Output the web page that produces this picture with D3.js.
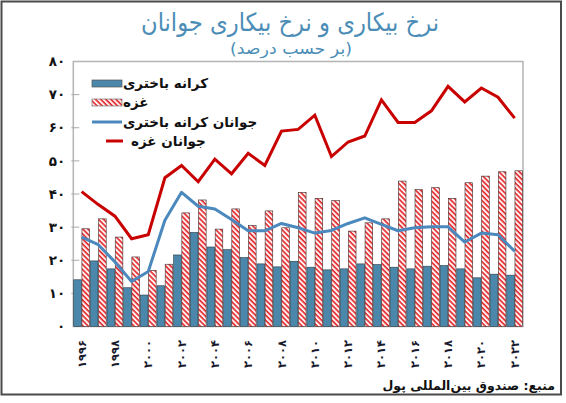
<!DOCTYPE html>
<html><head><meta charset="utf-8">
<script src="https://cdn.jsdelivr.net/npm/d3@7"></script>
<style>
html,body{margin:0;padding:0;background:#fff;}
svg{display:block;font-family:"DejaVu Sans",sans-serif;}
</style></head>
<body>
<svg id="c" width="566" height="403"></svg>
<script>
const years = d3.range(1996, 2023);
const westBank = [14.1,19.8,17.4,11.7,9.5,12.3,21.6,28.4,24.0,23.2,20.8,18.9,18.0,19.7,17.9,17.1,17.4,18.9,18.7,17.9,17.4,18.2,18.4,17.4,14.7,15.8,15.5];
const gaza = [29.5,32.5,27.0,21.0,16.9,18.8,34.3,38.2,29.4,35.5,30.5,34.9,29.8,40.5,38.7,38.0,28.8,31.3,32.5,43.9,41.3,41.9,38.7,43.4,45.4,46.7,47.0];
const youthWestBank = [27.0,24.7,19.5,13.6,16.6,32.1,40.5,36.3,35.5,32.3,28.9,28.9,31.1,29.8,28.2,29.0,31.1,32.8,30.8,28.9,29.8,30.1,30.1,25.5,28.2,27.7,22.7];
const youthGaza = [40.7,36.8,33.3,26.5,27.7,44.9,48.6,43.7,50.5,46.1,52.3,48.6,59.0,59.5,63.8,51.3,55.7,57.5,68.4,61.6,61.6,65.1,72.5,67.8,72.0,69.2,62.9];
const yTicks = [0,10,20,30,40,50,60,70,80];
const xLabelYears = d3.range(1996, 2023, 2);
const legendLabels = ["کرانه باختری","غزه","جوانان کرانه باختری","جوانان غزه"];
const title = "نرخ بیکاری و نرخ بیکاری جوانان";
const subtitle = "(بر حسب درصد)";
const source = "منبع: صندوق بین‌المللی پول";

const fa = n => String(n).replace(/\d/g, d => "۰۱۲۳۴۵۶۷۸۹"[d]);

const svg = d3.select("#c");
const m = {l:73.3, r:523, t:61.5, b:326.5};

// outer frame
svg.append("rect").attr("x",1.5).attr("y",1.5).attr("width",559.5).attr("height",393)
  .attr("fill","none").attr("stroke","#4a4a4a").attr("stroke-width",2);

const defs = svg.append("defs");
const pat = defs.append("pattern").attr("id","hatch").attr("patternUnits","userSpaceOnUse")
  .attr("width",3.6).attr("height",3.6).attr("patternTransform","rotate(-45)");
pat.append("rect").attr("width",3.6).attr("height",3.6).attr("fill","#fff0f0");
pat.append("line").attr("x1",1).attr("y1",0).attr("x2",1).attr("y2",3.6)
  .attr("stroke","#e3262b").attr("stroke-width",1.6);

const x = d3.scaleBand().domain(years).range([m.l, m.r]).paddingInner(0).paddingOuter(0);
const x1 = d3.scaleBand().domain(["wb","gz"]).range([0, x.bandwidth()]).paddingInner(0.07).paddingOuter(0.05);
const y = d3.scaleLinear().domain([0,80]).range([m.b, m.t]);

// titles
svg.append("text").attr("x",290).attr("y",31).attr("text-anchor","middle")
  .attr("font-size",25).attr("fill","#4b8db6")
  .attr("textLength",298).attr("lengthAdjust","spacingAndGlyphs").text(title);
svg.append("text").attr("x",291).attr("y",54).attr("text-anchor","middle")
  .attr("font-size",16).attr("fill","#4b8db6")
  .attr("textLength",122).attr("lengthAdjust","spacingAndGlyphs").text(subtitle);

// plot frame
svg.append("rect").attr("x",m.l).attr("y",m.t).attr("width",m.r-m.l).attr("height",m.b-m.t)
  .attr("fill","none").attr("stroke","#b4b4b4").attr("stroke-width",1.5);

// y axis ticks & labels
const ya = svg.append("g");
ya.selectAll("line").data(yTicks.filter(d=>d>0 && d<80)).join("line")
  .attr("x1",m.l-2).attr("x2",m.l+6).attr("y1",d=>y(d)).attr("y2",d=>y(d))
  .attr("stroke","#a8a8a8").attr("stroke-width",1);
ya.selectAll("text").data(yTicks).join("text")
  .attr("x",m.l-8).attr("y",d=>y(d)).attr("dy","0.35em").attr("text-anchor","end")
  .attr("font-size",13.5).attr("font-weight","bold").attr("fill","#111").text(d=>fa(d));

// bars
const g = svg.append("g");
g.selectAll("rect.wb").data(years).join("rect").attr("class","wb")
  .attr("x",(d)=>x(d)+x1("wb")).attr("width",x1.bandwidth())
  .attr("y",(d,i)=>y(westBank[i])).attr("height",(d,i)=>y(0)-y(westBank[i]))
  .attr("fill","#4a87ab").attr("stroke","#2b3a44").attr("stroke-width",0.6);
g.selectAll("rect.gz").data(years).join("rect").attr("class","gz")
  .attr("x",(d)=>x(d)+x1("gz")).attr("width",x1.bandwidth())
  .attr("y",(d,i)=>y(gaza[i])).attr("height",(d,i)=>y(0)-y(gaza[i]))
  .attr("fill","url(#hatch)").attr("stroke","#3a2a2a").attr("stroke-width",0.6);

// lines
const line = d3.line().x((d,i)=>x(years[i])+x.bandwidth()/2).y(d=>y(d));
svg.append("path").datum(youthWestBank).attr("d",line).attr("fill","none")
  .attr("stroke","#4a88bd").attr("stroke-width",3).attr("stroke-linejoin","round");
svg.append("path").datum(youthGaza).attr("d",line).attr("fill","none")
  .attr("stroke","#c80000").attr("stroke-width",3).attr("stroke-linejoin","miter");

// x labels
svg.append("g").selectAll("text").data(xLabelYears).join("text")
  .attr("transform",d=>`translate(${x(d)+x.bandwidth()/2},340) rotate(-90)`)
  .attr("dy","0.35em").attr("text-anchor","end")
  .attr("font-size",11.5).attr("font-weight","bold").attr("fill","#1a1a2e").text(d=>fa(d));

// legend
const lg = svg.append("g");
const ly = [83.5, 102.5, 122, 141];
lg.append("rect").attr("x",92).attr("y",ly[0]-3.5).attr("width",30).attr("height",7)
  .attr("fill","#4a87ab").attr("stroke","#555").attr("stroke-width",0.7);
lg.append("rect").attr("x",92).attr("y",ly[1]-3.5).attr("width",30).attr("height",7)
  .attr("fill","url(#hatch)").attr("stroke","#777").attr("stroke-width",0.7);
lg.append("line").attr("x1",92).attr("x2",122).attr("y1",ly[2]).attr("y2",ly[2])
  .attr("stroke","#4a88bd").attr("stroke-width",3);
lg.append("line").attr("x1",106).attr("x2",123).attr("y1",ly[3]).attr("y2",ly[3])
  .attr("stroke","#c80000").attr("stroke-width",3);
const lx = [123,123,123,131];
lg.selectAll("text").data(legendLabels).join("text")
  .attr("x",(d,i)=>lx[i]).attr("y",(d,i)=>ly[i]).attr("dy","0.35em")
  .attr("font-size",13.5).attr("font-weight","bold").attr("fill","#111").text(d=>d);

// source
svg.append("text").attr("x",555).attr("y",386).attr("dy","0.35em").attr("text-anchor","end")
  .attr("font-size",12.5).attr("font-weight","bold").attr("fill","#111").text(source);
</script>
</body></html>
